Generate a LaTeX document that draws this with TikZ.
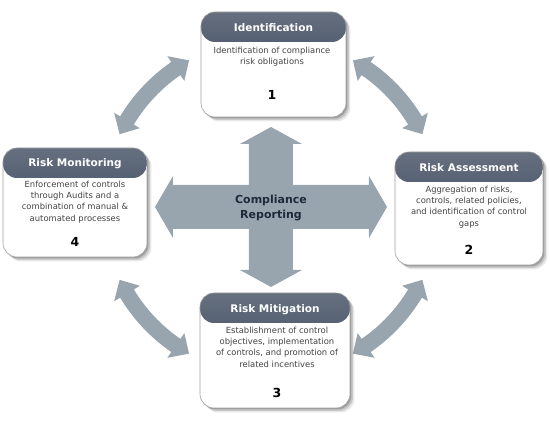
\documentclass[tikz,border=0pt]{standalone}
\usepackage{fontspec}
\setmainfont{DejaVu Sans}
\usetikzlibrary{shadows}
\definecolor{arrowgray}{HTML}{98A5AF}
\definecolor{hdtop}{HTML}{66707F}
\definecolor{hdbot}{HTML}{2E3B55}
\definecolor{boxline}{HTML}{A0A0A0}
\definecolor{bodytext}{HTML}{444444}
\definecolor{centertext}{HTML}{1E293B}
\def\Rc{168}\def\Ro{176}\def\Ri{160}\def\Rh{183}\def\Rl{153}\def\dA{5.3}
\newcommand\dblarc[2]{%
  \fill[arrowgray] (#1:\Ro) arc[start angle=#1, end angle=#2, radius=\Ro pt]
    -- (#2:\Rh) -- ({#2+\dA}:\Rc) -- (#2:\Rl) -- (#2:\Ri)
    arc[start angle=#2, end angle=#1, radius=\Ri pt]
    -- (#1:\Rl) -- ({#1-\dA}:\Rc) -- (#1:\Rh) -- cycle;}
\tikzset{
  stagebox/.style={rectangle, rounded corners=14pt, draw=boxline, line width=0.6pt,
    fill=white,
    drop shadow={shadow xshift=1.5pt, shadow yshift=-1.5pt, opacity=0.2, fill=black},
    drop shadow={shadow xshift=3pt, shadow yshift=-3pt, opacity=0.14, fill=black},
    drop shadow={shadow xshift=4.5pt, shadow yshift=-4.5pt, opacity=0.09, fill=black},
    path picture={\shade[top color=hdtop, bottom color=hdbot]
      ([yshift=1pt]path picture bounding box.north west) rectangle
      ([yshift=-30pt]path picture bounding box.north east);}},
  stagetitle/.style={text=white, font=\bfseries\fontsize{10.5}{12}\selectfont},
  stagebody/.style={text=bodytext, align=center, font=\fontsize{8.4}{11.3}\selectfont, inner sep=0pt},
  stagenum/.style={text=black, font=\bfseries\fontsize{12.5}{14}\selectfont},
  centerlabel/.style={text=centertext, align=center, font=\bfseries\fontsize{11}{15}\selectfont}
}
\begin{document}
\begin{tikzpicture}[x=1pt,y=1pt]
\useasboundingbox (-271,-215) rectangle (279,207);
% curved arrows
\dblarc{31}{55.5}
\dblarc{124.5}{149}
\dblarc{211}{235.5}
\dblarc{304.5}{329}
% central cross
\fill[arrowgray] (0,80) -- (31,63) -- (22,63) -- (22,22) -- (98,22) -- (98,31) -- (116,0)
  -- (98,-31) -- (98,-22) -- (22,-22) -- (22,-63) -- (31,-63) -- (0,-80) -- (-31,-63)
  -- (-22,-63) -- (-22,-22) -- (-98,-22) -- (-98,-31) -- (-116,0) -- (-98,31) -- (-98,22)
  -- (-22,22) -- (-22,63) -- (-31,63) -- cycle;
\node[centerlabel] (center) at (0,-1) {Compliance\\Reporting};
% boxes
\node[stagebox, minimum width=145pt, minimum height=105pt] (b1) at (2.5,142.5) {};
\node[stagebox, minimum width=148pt, minimum height=113pt] (b2) at (198,-1.5) {};
\node[stagebox, minimum width=144pt, minimum height=109pt] (b4) at (-196,4.5) {};
\node[stagebox, minimum width=150pt, minimum height=115pt] (b3) at (4,-143.5) {};
% titles
\node[stagetitle] (t1) at ([yshift=-16pt]b1.north) {Identification};
\node[stagetitle] (t2) at ([yshift=-16pt]b2.north) {Risk Assessment};
\node[stagetitle] (t4) at ([yshift=-16pt]b4.north) {Risk Monitoring};
\node[stagetitle] (t3) at ([yshift=-17pt]b3.north) {Risk Mitigation};
% bodies
\node[stagebody] (d1) at (1,150) {Identification of compliance\\risk obligations};
\node[stagebody] (d2) at (198,0) {Aggregation of risks,\\controls, related policies,\\and identification of control\\gaps};
\node[stagebody] (d4) at (-196,5) {Enforcement of controls\\through Audits and a\\combination of manual \&\\automated processes};
\node[stagebody] (d3) at (6,-140) {Establishment of control\\objectives, implementation\\of controls, and promotion of\\related incentives};
% numbers
\node[stagenum] (n1) at (1,112) {1};
\node[stagenum] (n2) at (198,-43) {2};
\node[stagenum] (n4) at (-196,-35) {4};
\node[stagenum] (n3) at (6,-186) {3};
\end{tikzpicture}
\end{document}
